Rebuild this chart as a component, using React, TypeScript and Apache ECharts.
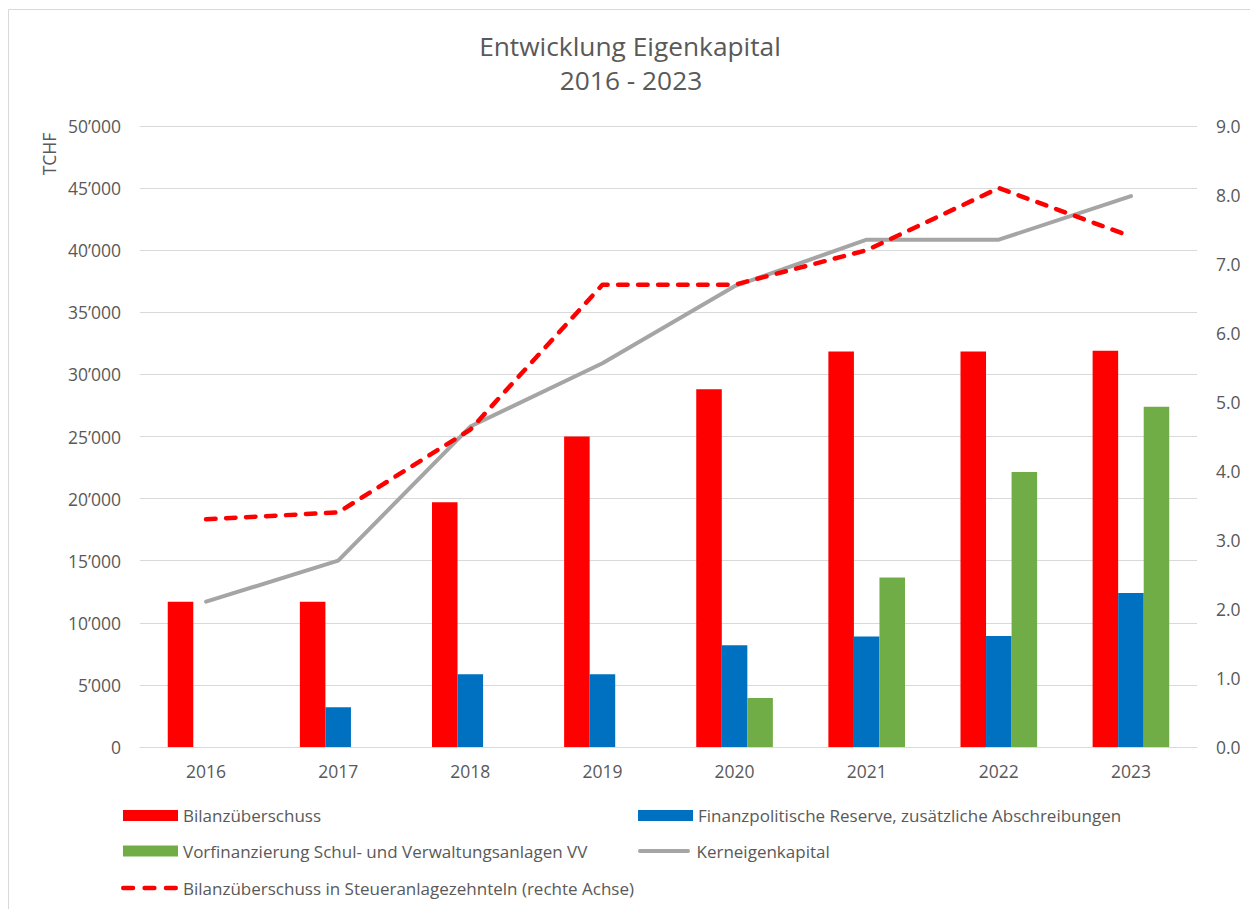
import React, { useEffect, useRef } from "react";
import * as echarts from "echarts";

const years = ["2016", "2017", "2018", "2019", "2020", "2021", "2022", "2023"];
const bilanzUeberschuss = [11700, 11700, 19700, 25000, 28800, 31850, 31850, 31900];
const finanzReserve = [0, 3200, 5850, 5850, 8200, 8900, 8940, 12400];
const vorfinanzierung = [0, 0, 0, 0, 3950, 13650, 22150, 27400];
const kernEigenkapital = [11700, 15000, 25800, 30900, 37100, 40850, 40850, 44350];
const steueranlageZehntel = [3.3, 3.4, 4.6, 6.7, 6.7, 7.2, 8.1, 7.4];

const names = [
  "Bilanzüberschuss",
  "Finanzpolitische Reserve, zusätzliche Abschreibungen",
  "Vorfinanzierung Schul- und Verwaltungsanlagen VV",
  "Kerneigenkapital",
  "Bilanzüberschuss in Steueranlagezehnteln (rechte Achse)",
];

const TEXT = "#595959";
const GRID = "#D9D9D9";
const FONT = "Open Sans";
const FS_AXIS = 17.5;
const FS_LEG = 17;

const dashIcon =
  "path://M2,0H11A2,2 0 0 1 11,4H2A2,2 0 0 1 2,0Z" +
  "M21.5,0H30.5A2,2 0 0 1 30.5,4H21.5A2,2 0 0 1 21.5,0Z" +
  "M41,0H50A2,2 0 0 1 50,4H41A2,2 0 0 1 41,0Z";
const lineIcon = "path://M2,0H50A2,2 0 0 1 50,4H2A2,2 0 0 1 2,0Z";

const fmt = (v: number) => {
  if (v === 0) return "0";
  const s = String(Math.round(v));
  return s.replace(/\B(?=(\d{3})+(?!\d))/g, "\u2019");
};

export default function App() {
  const ref = useRef<HTMLDivElement>(null);
  useEffect(() => {
    if (!ref.current) return;
    const chart = echarts.init(ref.current, undefined, { renderer: "svg" });
    const legendItem = (
      name: string,
      left: number,
      cy: number,
      icon: string,
      w: number,
      h: number
    ) => ({
      data: [{ name, icon }],
      left,
      top: cy - 11,
      orient: "horizontal",
      itemWidth: w,
      itemHeight: h,
      itemGap: 0,
      padding: 0,
      itemStyle: { borderWidth: 0 },
      textStyle: { color: TEXT, fontSize: FS_LEG, fontFamily: FONT, lineHeight: 22, padding: [0, 0, 0, 0] },
    });
    chart.setOption({
      animation: false,
      backgroundColor: "#fff",
      textStyle: { fontFamily: FONT },
      grid: { left: 140, right: 53, top: 126, bottom: 162, containLabel: false },
      legend: [
        legendItem(names[0], 123, 815.5, "rect", 55, 11),
        legendItem(names[2], 123, 851, "rect", 55, 11),
        legendItem(names[4], 121, 888, dashIcon, 57, 4.5),
        legendItem(names[1], 638, 815.5, "rect", 55, 11),
        legendItem(names[3], 638, 851, lineIcon, 55, 4),
      ],
      graphic: [
        {
          type: "rect",
          silent: true,
          shape: { x: 8.5, y: 9.5, width: 1260, height: 920 },
          style: { fill: "none", stroke: GRID, lineWidth: 1 },
        },
        {
          type: "text",
          x: 630,
          y: 46,
          style: {
            text: "Entwicklung Eigenkapital",
            fill: TEXT,
            fontSize: 26.3,
            fontFamily: FONT,
            textAlign: "center",
            textVerticalAlign: "middle",
          },
        },
        {
          type: "text",
          x: 631,
          y: 80,
          style: {
            text: "2016 - 2023",
            fill: TEXT,
            fontSize: 26.3,
            fontFamily: FONT,
            textAlign: "center",
            textVerticalAlign: "middle",
          },
        },
        {
          type: "text",
          x: 49,
          y: 154,
          rotation: Math.PI / 2,
          style: {
            text: "TCHF",
            fill: TEXT,
            fontSize: FS_AXIS,
            fontFamily: FONT,
            textAlign: "center",
            textVerticalAlign: "middle",
          },
        },
      ],
      xAxis: {
        type: "category",
        data: years,
        axisTick: { show: false },
        axisLine: { lineStyle: { color: GRID, width: 1 } },
        axisLabel: { color: TEXT, fontSize: FS_AXIS, fontFamily: FONT, margin: 15 },
      },
      yAxis: [
        {
          type: "value",
          min: 0,
          max: 50000,
          interval: 5000,
          axisLine: { show: false },
          axisTick: { show: false },
          splitLine: { lineStyle: { color: GRID, width: 1 } },
          axisLabel: { color: TEXT, fontSize: FS_AXIS, fontFamily: FONT, margin: 19, formatter: fmt },
        },
        {
          type: "value",
          min: 0,
          max: 9,
          interval: 1,
          axisLine: { show: false },
          axisTick: { show: false },
          splitLine: { show: false },
          axisLabel: {
            color: TEXT,
            fontSize: FS_AXIS,
            fontFamily: FONT,
            margin: 19,
            formatter: (v: number) => v.toFixed(1),
          },
        },
      ],
      series: [
        {
          name: names[0],
          type: "bar",
          data: bilanzUeberschuss,
          itemStyle: { color: "#FF0000" },
          barGap: "0%",
          barCategoryGap: "42%",
        },
        {
          name: names[1],
          type: "bar",
          data: finanzReserve,
          itemStyle: { color: "#0070C0" },
          barGap: "0%",
          barCategoryGap: "42%",
        },
        {
          name: names[2],
          type: "bar",
          data: vorfinanzierung,
          itemStyle: { color: "#70AD47" },
          barGap: "0%",
          barCategoryGap: "42%",
        },
        {
          name: names[3],
          type: "line",
          data: kernEigenkapital,
          symbol: "none",
          itemStyle: { color: "#A5A5A5" },
          lineStyle: { color: "#A5A5A5", width: 4, cap: "round", join: "round" },
          z: 3,
        },
        {
          name: names[4],
          type: "line",
          yAxisIndex: 1,
          data: steueranlageZehntel,
          symbol: "none",
          itemStyle: { color: "#FF0000" },
          lineStyle: { color: "#FF0000", width: 4.5, type: [9.5, 10.5], cap: "round", join: "round" },
          z: 4,
        },
      ],
    });
    return () => chart.dispose();
  }, []);
  return (
    <div
      ref={ref}
      style={{ position: "fixed", left: 0, top: 0, width: 1250, height: 909, background: "#fff" }}
    />
  );
}
